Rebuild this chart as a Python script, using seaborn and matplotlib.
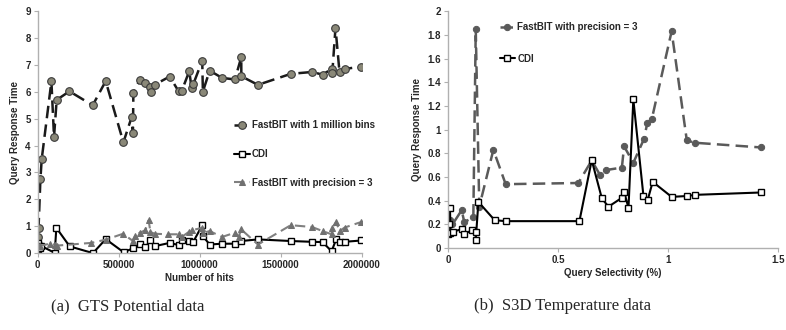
import numpy as np
import pandas as pd
import seaborn as sns
import matplotlib.pyplot as plt

# (a) GTS Potential data
gts_bins_x = [0, 2000, 3000, 5000, 16600, 24700, 84500, 100600, 117000, 195700, 339500,
              419800, 529000, 580000, 588000, 590700, 630000, 665000, 696000, 697500,
              724000, 815000, 870000, 889000, 936000, 950000, 961000, 1016000, 1020000,
              1062000, 1138000, 1218000, 1257000, 1257500, 1360000, 1563000, 1695000,
              1759000, 1815000, 1819000, 1839000, 1864000, 1895000, 1999000]
gts_bins_y = [0.15, 0.35, 0.61, 0.93, 2.76, 3.50, 6.39, 4.32, 5.70, 6.02, 5.50,
              6.40, 4.12, 5.06, 4.47, 5.97, 6.44, 6.34, 6.19, 6.00,
              6.27, 6.57, 6.02, 6.03, 6.77, 6.15, 6.29, 7.16, 6.01,
              6.79, 6.52, 6.46, 7.29, 6.58, 6.26, 6.67, 6.74,
              6.64, 6.85, 6.69, 8.38, 6.72, 6.85, 6.94]

gts_cdi_x = [0, 3000, 12000, 20000, 105000, 115000, 197500, 341000, 420000, 531000,
             588000, 630000, 665000, 696000, 724000, 815000, 870000, 889000, 936000,
             959000, 1016000, 1020000, 1062000, 1138000, 1218000, 1257000, 1360000,
             1563000, 1695000, 1759000, 1815000, 1843000, 1864000, 1895000, 1999000]
gts_cdi_y = [0.38, 0.14, 0.20, 0.27, 0.01, 0.94, 0.25, 0.00, 0.52, 0.03,
             0.18, 0.35, 0.22, 0.47, 0.26, 0.38, 0.30, 0.47, 0.45,
             0.40, 1.04, 0.63, 0.32, 0.35, 0.35, 0.45, 0.51,
             0.45, 0.42, 0.41, 0.07, 0.51, 0.41, 0.42, 0.47]

gts_prec_x = [0, 15000, 78000, 105000, 120000, 331000, 420000, 527000, 588000, 600000,
              630000, 665000, 685000, 696000, 724000, 804000, 870000, 889000, 936000,
              950000, 1016000, 1020000, 1062000, 1138000, 1218000, 1240000, 1257000,
              1360000, 1563000, 1695000, 1759000, 1815000, 1819000, 1843000, 1864000,
              1895000, 1999000]
gts_prec_y = [0.30, 0.28, 0.35, 0.32, 0.28, 0.38, 0.50, 0.72, 0.45, 0.62,
              0.76, 0.85, 1.22, 0.78, 0.72, 0.70, 0.70, 0.60, 0.80,
              0.85, 0.94, 0.75, 0.82, 0.60, 0.76, 0.60, 0.88,
              0.32, 1.04, 0.97, 0.82, 0.70, 0.94, 1.16, 0.82,
              0.95, 1.16]

# (b) S3D Temperature data
s3d_prec_x = [0.0, 0.005, 0.009, 0.02, 0.062, 0.074, 0.115, 0.126, 0.142, 0.206, 0.262,
              0.592, 0.653, 0.69, 0.72, 0.79, 0.80, 0.842, 0.89, 0.906, 0.926, 1.016,
              1.085, 1.12, 1.423]
s3d_prec_y = [0.15, 0.21, 0.24, 0.20, 0.32, 0.22, 0.26, 1.85, 0.35, 0.83, 0.54,
              0.55, 0.74, 0.62, 0.66, 0.68, 0.86, 0.72, 0.92, 1.06, 1.09, 1.83,
              0.91, 0.89, 0.85]

s3d_cdi_x = [0.0, 0.003, 0.009, 0.011, 0.024, 0.062, 0.074, 0.108, 0.127, 0.126, 0.138,
             0.212, 0.262, 0.597, 0.653, 0.699, 0.729, 0.79, 0.80, 0.82, 0.842, 0.888,
             0.907, 0.93, 1.016, 1.085, 1.123, 1.423]
s3d_cdi_y = [0.12, 0.20, 0.335, 0.13, 0.14, 0.16, 0.12, 0.15, 0.14, 0.07, 0.39,
             0.236, 0.228, 0.228, 0.743, 0.42, 0.35, 0.425, 0.475, 0.34, 1.255, 0.44,
             0.405, 0.56, 0.433, 0.44, 0.45, 0.47]

sns.set_style("white")
plt.rcParams['font.family'] = ['Liberation Sans', 'DejaVu Sans']
plt.rcParams['font.weight'] = 'bold'

fig = plt.figure(figsize=(7.86, 3.3), dpi=100)
ax1 = fig.add_axes([0.048, 0.233, 0.412, 0.733])
ax2 = fig.add_axes([0.570, 0.248, 0.420, 0.718])

dash = (0, (5, 2.5))

sns.lineplot(x=gts_bins_x, y=gts_bins_y, ax=ax1, sort=False, estimator=None,
             color='#1a1a1a', linewidth=1.8, linestyle=dash, marker='o', markersize=5.5,
             markerfacecolor='#8a8878', markeredgecolor='#3a3a3a', markeredgewidth=0.8,
             label='FastBIT with 1 million bins')
sns.lineplot(x=gts_cdi_x, y=gts_cdi_y, ax=ax1, sort=False, estimator=None,
             color='black', linewidth=1.5, marker='s', markersize=4.5,
             markerfacecolor='white', markeredgecolor='black', markeredgewidth=1.0,
             label='CDI')
sns.lineplot(x=gts_prec_x, y=gts_prec_y, ax=ax1, sort=False, estimator=None,
             color='#808080', linewidth=1.5, linestyle=dash, marker='^', markersize=5,
             markerfacecolor='#707070', markeredgecolor='#707070',
             label='FastBIT with precision = 3')

sns.lineplot(x=s3d_prec_x, y=s3d_prec_y, ax=ax2, sort=False, estimator=None,
             color='#5a5a5a', linewidth=1.8, linestyle=dash, marker='o', markersize=4.5,
             markerfacecolor='#5a5a5a', markeredgecolor='#5a5a5a',
             label='FastBIT with precision = 3')
sns.lineplot(x=s3d_cdi_x, y=s3d_cdi_y, ax=ax2, sort=False, estimator=None,
             color='black', linewidth=1.5, marker='s', markersize=4.5,
             markerfacecolor='white', markeredgecolor='black', markeredgewidth=1.0,
             label='CDI')

ax1.set_xlim(0, 2000000)
ax1.set_ylim(0, 9)
ax1.set_xticks([0, 500000, 1000000, 1500000, 2000000])
ax1.set_xticklabels(['0', '500000', '1000000', '1500000', '2000000'])
ax1.set_yticks(range(0, 10))
ax1.set_xlabel('Number of hits', fontsize=7, fontweight='bold', labelpad=2)
ax1.set_ylabel('Query Response Time', fontsize=7, fontweight='bold', labelpad=4)

ax2.set_xlim(0, 1.5)
ax2.set_ylim(0, 2)
ax2.set_xticks([0, 0.5, 1, 1.5])
ax2.set_xticklabels(['0', '0.5', '1', '1.5'])
ax2.set_yticks(np.arange(0, 2.01, 0.2))
ax2.set_yticklabels(['0', '0.2', '0.4', '0.6', '0.8', '1', '1.2', '1.4', '1.6', '1.8', '2'])
ax2.set_xlabel('Query Selectivity (%)', fontsize=7, fontweight='bold', labelpad=2)
ax2.set_ylabel('Query Response Time', fontsize=7, fontweight='bold', labelpad=4)

for ax in (ax1, ax2):
    sns.despine(ax=ax)
    for s in ('left', 'bottom'):
        ax.spines[s].set_color('#b0b0b0')
        ax.spines[s].set_linewidth(1.0)
    ax.tick_params(axis='both', labelsize=7, length=3, width=0.8, color='#b0b0b0',
                   direction='out', bottom=True, left=True, pad=2)
    for t in ax.get_xticklabels() + ax.get_yticklabels():
        t.set_fontweight('bold')

leg1 = ax1.legend(loc='center left', bbox_to_anchor=(0.58, 0.41), frameon=False,
                  fontsize=7, labelspacing=1.95, handlelength=1.6, handletextpad=0.2)
leg2 = ax2.legend(loc='upper left', bbox_to_anchor=(0.13, 0.99), frameon=False,
                  fontsize=7, labelspacing=2.2, handlelength=1.6, handletextpad=0.2)
for leg in (leg1, leg2):
    for t in leg.get_texts():
        t.set_fontweight('bold')

fig.text(0.163, 0.072, '(a)  GTS Potential data', ha='center', va='center',
         fontsize=12, family='Liberation Serif', fontweight='normal')
fig.text(0.716, 0.072, '(b)  S3D Temperature data', ha='center', va='center',
         fontsize=12, family='Liberation Serif', fontweight='normal')

fig.savefig('out.png', dpi=100)
